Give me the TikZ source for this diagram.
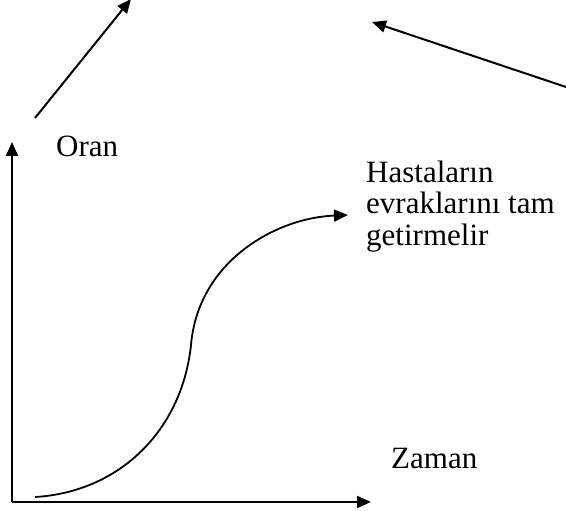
\documentclass[tikz,border=0pt]{standalone}
\usepackage{fontspec}
\setmainfont{Liberation Serif}
\usetikzlibrary{arrows.meta}
\tikzstyle{arrow} = [-{Triangle[length=14pt,width=12pt]},line width=2pt]
\tikzstyle{lbl} = [anchor=base west,inner sep=0pt,font=\fontsize{31}{31.5}\selectfont,align=left]

\begin{document}
\begin{tikzpicture}[x=1pt,y=-1pt]
      \useasboundingbox (0,0) rectangle (566,511);
      % stray arrows at the top
      \coordinate (a1) at (35,118);
      \coordinate (a2) at (131,-1);
      \coordinate (b1) at (566,87);
      \coordinate (b2) at (372,22);
      \draw[arrow](a1)--(a2);
      \draw[arrow](b1)--(b2);
      % axes
      \coordinate (o) at (12,502);
      \coordinate (ytip) at (12,142);
      \coordinate (xtip) at (371,502);
      \draw[arrow](o)--(ytip);
      \draw[arrow](o)--(xtip);
      \node[lbl] (oran) at (56,157) {Oran};
      \node[lbl] (zaman) at (391,468) {Zaman};
      % s-curve
      \coordinate (c0) at (35,497);
      \coordinate (cm) at (191,345);
      \node[lbl] (note) at (366,245) {Hastaların\\evraklarını tam\\getirmelir};
      \draw[arrow,line width=1.8pt](c0) .. controls (120,492) and (182,430) .. (cm) .. controls (198,262) and (275,218) .. (348,215);
    \end{tikzpicture}
\end{document}
